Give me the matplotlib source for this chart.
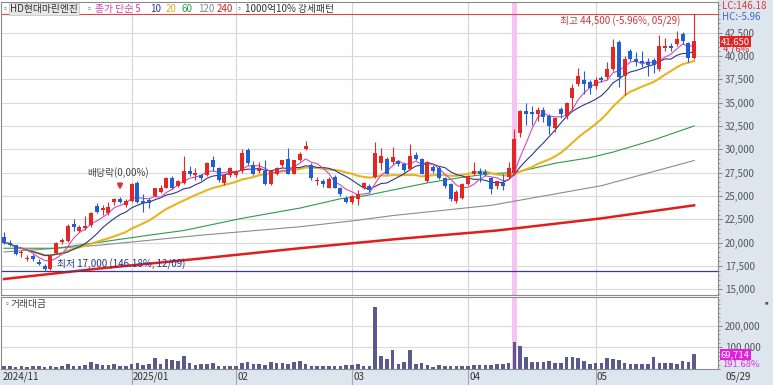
import numpy as np
import pandas as pd
import matplotlib
matplotlib.use('Agg')
import matplotlib.pyplot as plt
import matplotlib.transforms as mtransforms
from matplotlib.patches import Rectangle
from matplotlib.ticker import FuncFormatter, MultipleLocator

plt.rcParams['font.family'] = ['Noto Sans CJK KR', 'DejaVu Sans']

# 일봉 2024-11-28 ~ 2025-05-29 (거래일 순서)
opens = [20600, 20000, 19700, 18900, 18200, 18600, 17900, 17500, 17200, 18900,
         20100, 20200, 22000, 21300, 21600, 21850, 23900, 23500, 23200, 24300,
         24700, 24000, 24500, 26400, 24500, 24600, 25000, 25400, 25900, 26900,
         26100, 26400, 27700, 27200, 27200, 27200, 28800, 28000, 26400, 27200,
         27200, 27700, 29900, 28300, 27700, 27700, 26300, 27400, 28300, 29000,
         27400, 28800, 30000, 28300, 26600, 26600, 25900, 27000, 25900, 24800,
         24300, 24700, 25800, 26100, 27000, 28500, 29000, 28600, 28700, 28400,
         27900, 29400, 29000, 26600, 28100, 28000, 26900, 26300, 24500, 24800,
         26300, 27400, 27700, 27600, 26900, 26100, 26400, 27000, 27500, 31700,
         34100, 34000, 33800, 34200, 33600, 32300, 34300, 33600, 35500, 37000,
         37400, 37200, 36800, 37600, 37700, 38600, 41500, 37900, 40500, 39700,
         39500, 39400, 39600, 38600, 40800, 41100, 41300, 42300, 41400, 39800]
highs = [21100, 20300, 19800, 19200, 18700, 18800, 18300, 17700, 18800, 20100,
         20500, 22000, 22500, 21900, 22900, 23300, 24200, 24000, 24300, 24800,
         24900, 24700, 26400, 26600, 25200, 24800, 25900, 26200, 27000, 27100,
         26700, 29300, 28200, 28000, 27400, 28600, 29300, 28100, 27300, 28100,
         27800, 30000, 30100, 28700, 28600, 28800, 27800, 28100, 28900, 30100,
         28900, 29700, 30900, 28500, 27000, 26800, 27000, 27200, 26000, 25000,
         25100, 25600, 26500, 26300, 30800, 30100, 29200, 30200, 28900, 28600,
         30600, 29700, 29100, 28700, 28300, 28200, 27000, 26400, 25600, 26400,
         27200, 28600, 28000, 27900, 27000, 26600, 27400, 28600, 32200, 34200,
         35000, 34600, 34500, 34500, 33800, 33500, 34500, 35100, 37000, 38700,
         38400, 37400, 37700, 37900, 39300, 41800, 41700, 40000, 40700, 40400,
         40500, 39800, 39800, 42200, 41900, 41400, 42700, 42600, 41500, 44500]
lows = [19900, 19600, 18700, 18500, 18000, 18000, 17600, 17000, 17100, 18800,
        19900, 20100, 21300, 21100, 21400, 21700, 23200, 23000, 23000, 24000,
        24200, 23800, 24400, 24200, 23300, 23700, 24900, 25300, 25800, 25700,
        26000, 26300, 27100, 26700, 26700, 27100, 27700, 26500, 26200, 27000,
        27000, 27500, 28300, 27200, 27500, 26200, 26200, 27200, 28100, 27300,
        27300, 28700, 29900, 26700, 26200, 26000, 25800, 25800, 25000, 24200,
        24100, 24000, 25700, 25400, 26900, 27800, 27300, 28400, 28200, 27600,
        27800, 28800, 27300, 26500, 27500, 26800, 25900, 24500, 24200, 24700,
        26200, 27200, 26500, 27100, 25200, 25700, 25600, 26800, 27200, 31300,
        32600, 32600, 33000, 32900, 31600, 31900, 33300, 33200, 34200, 36800,
        35900, 35900, 36500, 37200, 37500, 38400, 36700, 35800, 39500, 38900,
        38800, 37900, 38200, 38400, 40500, 40500, 41100, 41300, 39400, 39700]
closes = [20000, 19800, 18800, 19000, 18400, 18200, 17700, 17200, 18600, 20000,
          20300, 21800, 21700, 21650, 21750, 23200, 23300, 23700, 23800, 24700,
          24400, 24500, 26300, 24300, 24200, 24200, 25800, 25800, 26900, 25900,
          26600, 27700, 27400, 27500, 26900, 28500, 28100, 26700, 27200, 28000,
          27700, 29600, 28500, 27400, 28000, 26300, 27700, 28000, 28800, 27400,
          28800, 29500, 30400, 26900, 26700, 26300, 26800, 25900, 25200, 24300,
          25000, 25200, 26400, 25600, 29600, 29300, 27400, 29200, 28400, 27800,
          29300, 29000, 27400, 28600, 27700, 26900, 26100, 24700, 25400, 26300,
          27100, 27700, 27400, 27300, 25700, 26600, 26100, 28000, 31100, 34100,
          33800, 33800, 34200, 33500, 32500, 33400, 33800, 35000, 36600, 37800,
          37000, 36600, 37400, 37400, 38600, 41000, 37700, 39700, 39700, 39300,
          39200, 39000, 39000, 41100, 41100, 40800, 41800, 41600, 39750, 41650]

# 거래대금 (백만원)
trade_value = [12000, 12000, 8000, 12000, 8000, 12000, 12000, 9000, 14000, 9000,
               14000, 23000, 15000, 12000, 18000, 34000, 23000, 18000, 18000, 21000,
               12000, 12000, 23000, 26000, 18000, 25000, 51000, 23000, 46000, 40000,
               38000, 61000, 28000, 18000, 23000, 23000, 28000, 15000, 15000, 12000,
               12000, 28000, 31000, 23000, 23000, 18000, 34000, 28000, 28000, 23000,
               34000, 38000, 23000, 15000, 15000, 12000, 15000, 15000, 12000, 18000,
               18000, 23000, 15000, 15000, 285000, 60000, 46000, 87000, 23000, 34000,
               87000, 23000, 26000, 18000, 11000, 18000, 15000, 15000, 15000, 14000,
               14000, 20000, 20000, 20000, 18000, 21000, 23000, 26000, 123000, 107000,
               54000, 34000, 34000, 34000, 38000, 29000, 26000, 55000, 57000, 51000,
               38000, 23000, 26000, 29000, 49000, 45000, 41000, 26000, 23000, 23000,
               23000, 23000, 54000, 29000, 26000, 29000, 23000, 38000, 34000, 69714]

# 장기 이동평균
ma60_idx = [0, 9, 16, 25, 31, 41, 51, 58, 62, 73, 79, 84, 88, 95, 101, 105, 112, 119]
ma60_val = [19400, 19400, 20000, 20800, 21300, 22600, 23700, 24700, 25000, 26400,
            27000, 27400, 27500, 28500, 29100, 29700, 31000, 32500]
ma120_idx = [0, 16, 34, 51, 61, 67, 84, 103, 119]
ma120_val = [19000, 19700, 20800, 21700, 22400, 22900, 24000, 26100, 28800]
ma240_idx = [0, 16, 34, 51, 68, 85, 103, 119]
ma240_val = [16100, 17200, 18300, 19400, 20400, 21300, 22600, 24000]

month_idx = [22, 40, 60, 80, 102]
month_labels = ['2025/01', '02', '03', '04', '05']
event_idx = 88          # 분홍 세로띠
exdiv_idx = 20          # 배당락
price_ticks = list(range(15000, 42501, 2500))

RED = '#e32626'
BLUE = '#1f5fd2'
BAND = '#dde5ef'
W, H = 773, 385

df = pd.DataFrame({'open': opens, 'high': highs, 'low': lows, 'close': closes})
x = np.arange(len(df))
ma5 = df['close'].rolling(5, min_periods=1).mean()
ma10 = df['close'].rolling(10, min_periods=1).mean()
ma20 = df['close'].rolling(20, min_periods=1).mean()

fig = plt.figure(figsize=(W / 100, H / 100), dpi=100)
fig.patches.append(Rectangle((718 / W, 0), 1 - 718 / W, 1, transform=fig.transFigure,
                             color=BAND, zorder=-1))
fig.patches.append(Rectangle((0, 0), 1, 16 / H, transform=fig.transFigure,
                             color=BAND, zorder=-1))


def px(l, t, r, b):
    return [l / W, 1 - b / H, (r - l) / W, (b - t) / H]


ax = fig.add_axes(px(1, 2, 718, 295))
axv = fig.add_axes(px(1, 297, 718, 369), sharex=ax)

for a in (ax, axv):
    a.set_facecolor('white')
    for s in a.spines.values():
        s.set_color('#8a8a8a')
        s.set_linewidth(0.8)
    a.yaxis.tick_right()
    a.tick_params(axis='y', which='both', direction='out', colors='#8a8a8a',
                  labelcolor='#555555', labelsize=7, pad=2)
    a.tick_params(axis='y', which='major', length=3)
    a.tick_params(axis='y', which='minor', length=1.5)
    for m in month_idx:
        a.axvline(m, color='#d4d4d4', lw=0.8, zorder=0)
    a.axvspan(event_idx - 0.45, event_idx + 0.45, color='#f6c4f2', lw=0, zorder=0.5)

# 가격 패널
ax.set_xlim(-0.52, 123.1)
ax.set_ylim(14390, 45780)
ax.set_yticks(price_ticks)
ax.yaxis.set_minor_locator(MultipleLocator(500))
ax.yaxis.set_major_formatter(FuncFormatter(lambda v, p: f'{int(v):,}'))
for t in price_ticks:
    ax.axhline(t, color='#dadada', lw=0.8, zorder=0)
ax.tick_params(axis='x', which='both', bottom=False, labelbottom=False)

ax.plot(ma240_idx, ma240_val, color='#e01e1e', lw=1.8, zorder=2)
ax.plot(ma120_idx, ma120_val, color='#8c8c8c', lw=0.8, zorder=2)
ax.plot(ma60_idx, ma60_val, color='#2e9a4c', lw=0.8, zorder=2)
ax.plot(x, ma20, color='#e8b420', lw=1.5, zorder=2)
ax.plot(x, ma10, color='#2a3a8c', lw=0.8, zorder=2)
ax.plot(x, ma5, color='#d04cc0', lw=0.8, zorder=2)

up = df['close'] >= df['open']
col = np.where(up, RED, BLUE)
ax.vlines(x, df['low'], df['high'], colors=col, lw=0.8, zorder=3)
body = (df['close'] - df['open']).abs().clip(lower=70)
ax.bar(x, body, bottom=df[['open', 'close']].min(axis=1), width=0.68,
       color=col, zorder=4)

ax.axhline(max(highs), color='#e04646', lw=0.8, zorder=2)
ax.axhline(min(lows), color='#3a3a9c', lw=0.9, zorder=2)
ax.text(116.6, 43750, '최고 44,500 (-5.96%, 05/29)', ha='right', va='center',
        fontsize=7, color='#c23a3a', zorder=5)
ax.text(9.2, 17700, '최저 17,000 (146.18%, 12/09)', ha='left', va='center',
        fontsize=7, color='#26358a', zorder=5)
ax.text(19.6, 27500, '배당락(0,00%)', ha='center', va='center',
        fontsize=7, color='#444444', zorder=5)
ax.annotate('', xy=(exdiv_idx, 25350), xytext=(exdiv_idx, 26500),
            arrowprops=dict(arrowstyle='-|>', color='#e03030', lw=1.6,
                            mutation_scale=7), zorder=5)

trans_p = mtransforms.blended_transform_factory(ax.transAxes, ax.transData)
ax.text(1.004, closes[-1] - 100, f'{closes[-1]:,}', transform=trans_p, ha='left',
        va='center', fontsize=6.8, color='white', zorder=6,
        bbox=dict(boxstyle='square,pad=0.08', fc='#e82222', ec='none'))
ax.text(1.006, 40650, '4.76%', transform=trans_p, ha='left', va='center',
        fontsize=6.8, color='#e02a2a', zorder=6)

# 거래대금 패널
axv.set_ylim(0, 333000)
axv.set_yticks([100000, 200000])
axv.yaxis.set_minor_locator(MultipleLocator(20000))
axv.yaxis.set_major_formatter(FuncFormatter(lambda v, p: f'{int(v):,}'))
for t in (100000, 200000):
    axv.axhline(t, color='#dadada', lw=0.8, zorder=0)
axv.bar(x, trade_value, width=0.62, color='#5a5a8e', zorder=3)
axv.set_xticks(month_idx)
axv.tick_params(axis='x', direction='out', length=11.5, color='#a0a8b4',
                labelbottom=False)
axv.text(0.004, 0.9, '▫', transform=axv.transAxes, ha='left', va='center',
         fontsize=5, color='#777777')
axv.text(0.013, 0.9, '거래대금', transform=axv.transAxes, ha='left', va='center',
         fontsize=7, color='#444444')

trans_v = mtransforms.blended_transform_factory(axv.transAxes, axv.transData)
axv.text(1.004, trade_value[-1] - 3000, f'{trade_value[-1]:,}', transform=trans_v,
         ha='left', va='center', fontsize=6.8, color='white', zorder=6,
         bbox=dict(boxstyle='square,pad=0.08', fc='#e020dc', ec='none'))
axv.text(1.006, 22000, '191.68%', transform=trans_v, ha='left', va='center',
         fontsize=6.8, color='#d83ad8', zorder=6)

# 날짜 라벨
trans_d = mtransforms.blended_transform_factory(axv.transData, fig.transFigure)
axv.text(-0.3, 1 - 377 / H, '2024/11', transform=trans_d, ha='left', va='center',
         fontsize=7, color='#333333')
for m, lab in zip(month_idx, month_labels):
    axv.text(m + 0.2, 1 - 377 / H, lab, transform=trans_d, ha='left', va='center',
             fontsize=7, color='#333333')
fig.text(726 / W, 1 - 377 / H, '05/29', ha='left', va='center', fontsize=7,
         color='#333333')

# 상단 범례
fy = 1 - 9 / H
fig.text(2 / W, fy, '▫', ha='left', va='center', fontsize=5, color='#777777')
fig.text(10 / W, fy, 'HD현대마린엔진', ha='left', va='center', fontsize=7,
         color='#333333', bbox=dict(boxstyle='square,pad=0.15', fc='#e6e6e6',
                                    ec='#c8c8c8', lw=0.6))
legend_items = [(86, '▫', '#777777', 5), (95, '종가 단순 5', '#d03cb4', 7),
                (150, '10', '#2a3a8c', 7), (166, '20', '#e0b020', 7),
                (182, '60', '#2e9a4c', 7), (198, '120', '#888888', 7),
                (217, '240', '#d42020', 7), (236, '▫', '#777777', 5),
                (245, '1000억10% 강세패턴', '#333333', 7)]
for px_, txt, c, fs in legend_items:
    fig.text(px_ / W, fy, txt, ha='left', va='center', fontsize=fs, color=c)

fig.text(722 / W, 1 - 6 / H, 'LC:146.18', ha='left', va='center', fontsize=7,
         color='#e03c3c')
fig.text(722 / W, 1 - 17 / H, 'HC:-5.96', ha='left', va='center', fontsize=7,
         color='#3a6cc8')
fig.text(766 / W, 1 - 303 / H, '▪', ha='center', va='center', fontsize=7,
         color='#555555')

fig.savefig('out.png', dpi=100)
